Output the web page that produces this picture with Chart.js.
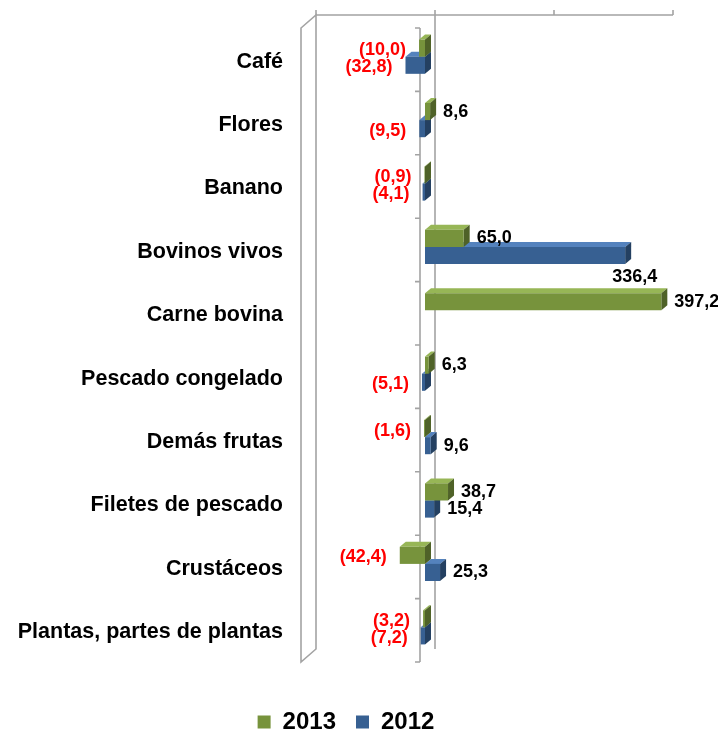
<!DOCTYPE html>
<html>
<head>
<meta charset="utf-8">
<script src="https://cdn.jsdelivr.net/npm/chart.js@4"></script>
<style>
  html, body { margin: 0; padding: 0; background: #fff; overflow: hidden; }
  #wrap { width: 718px; height: 735px; }
</style>
</head>
<body>
<div id="wrap"><canvas id="chart"></canvas></div>
<script>
const categories = ['Café', 'Flores', 'Banano', 'Bovinos vivos', 'Carne bovina',
  'Pescado congelado', 'Demás frutas', 'Filetes de pescado', 'Crustáceos',
  'Plantas, partes de plantas'];
const values2013 = [-10.0, 8.6, -0.9, 65.0, 397.2, 6.3, -1.6, 38.7, -42.4, -3.2];
const values2012 = [-32.8, -9.5, -4.1, 336.4, null, -5.1, 9.6, 15.4, 25.3, -7.2];
const seriesNames = ['2013', '2012'];
const valueTicks = [-200, 0, 200, 400];

const faces = [
  {front: '#77933C', top: '#97B656', side: '#4F6228'},
  {front: '#376092', top: '#5482BD', side: '#244061'}
];
const lineGrey = '#A3A3A3';
const depthX = 6, depthY = 5;      // bar depth
const back = {dx: 10, dy: -10};    // back wall offset from the bar plane
const front = {dx: -5, dy: 3};     // front (axis) plane offset

Chart.defaults.font.family = '"Liberation Sans", Arial, sans-serif';

function fmt(v) {
  const s = Math.abs(v).toFixed(1).replace('.', ',');
  return v < 0 ? '(' + s + ')' : s;
}

const box3d = {
  id: 'box3d',
  beforeDatasetsDraw(chart) {
    const ctx = chart.ctx, a = chart.chartArea, xs = chart.scales.x;
    const min = valueTicks[0], max = valueTicks[valueTicks.length - 1];
    ctx.save();
    ctx.strokeStyle = lineGrey;
    ctx.lineWidth = 1.6;

    // left side wall
    const fl = xs.getPixelForValue(min) + front.dx, bl = xs.getPixelForValue(min) + back.dx;
    ctx.fillStyle = '#fff';
    ctx.beginPath();
    ctx.moveTo(fl, a.top + front.dy);
    ctx.lineTo(bl, a.top + back.dy);
    ctx.lineTo(bl, a.bottom + back.dy);
    ctx.lineTo(fl, a.bottom + front.dy);
    ctx.closePath();
    ctx.fill();
    ctx.stroke();

    // top edge of the back wall with tick marks
    const ty = a.top + back.dy;
    ctx.beginPath();
    ctx.moveTo(bl, ty);
    ctx.lineTo(xs.getPixelForValue(max) + back.dx, ty);
    valueTicks.forEach(t => {
      const x = xs.getPixelForValue(t) + back.dx;
      ctx.moveTo(x, ty);
      ctx.lineTo(x, ty - 5);
    });
    // zero line on the back wall
    const bz = xs.getPixelForValue(0) + back.dx;
    ctx.moveTo(bz, ty);
    ctx.lineTo(bz, a.bottom + back.dy);
    ctx.stroke();

    // category axis in front
    const fz = xs.getPixelForValue(0) + front.dx;
    const step = (a.bottom - a.top) / categories.length;
    ctx.beginPath();
    ctx.moveTo(fz, a.top + front.dy);
    ctx.lineTo(fz, a.bottom + front.dy);
    for (let i = 0; i <= categories.length; i++) {
      const y = a.top + front.dy + i * step;
      ctx.moveTo(fz, y);
      ctx.lineTo(fz - 5, y);
    }
    ctx.stroke();

    // top and side faces of the bars, lower series first
    for (let d = chart.data.datasets.length - 1; d >= 0; d--) {
      const meta = chart.getDatasetMeta(d);
      const vals = chart.data.datasets[d].data;
      meta.data.forEach((bar, i) => {
        if (vals[i] == null) return;
        const p = bar.getProps(['x', 'y', 'base', 'height'], true);
        const l = Math.min(p.x, p.base), r = Math.max(p.x, p.base);
        const t = p.y - p.height / 2, b = p.y + p.height / 2;
        ctx.fillStyle = faces[d].top;
        ctx.beginPath();
        ctx.moveTo(l, t);
        ctx.lineTo(l + depthX, t - depthY);
        ctx.lineTo(r + depthX, t - depthY);
        ctx.lineTo(r, t);
        ctx.closePath();
        ctx.fill();
        ctx.fillStyle = faces[d].side;
        ctx.beginPath();
        ctx.moveTo(r, t);
        ctx.lineTo(r + depthX, t - depthY);
        ctx.lineTo(r + depthX, b - depthY);
        ctx.lineTo(r, b);
        ctx.closePath();
        ctx.fill();
      });
    }
    ctx.restore();
  },
  afterDatasetsDraw(chart) {
    const ctx = chart.ctx;
    ctx.save();
    ctx.font = 'bold 18px "Liberation Sans", Arial, sans-serif';
    ctx.textBaseline = 'middle';
    chart.data.datasets.forEach((ds, d) => {
      chart.getDatasetMeta(d).data.forEach((bar, i) => {
        const v = ds.data[i];
        if (v == null) return;
        const p = bar.getProps(['x', 'y', 'base'], true);
        const l = Math.min(p.x, p.base), r = Math.max(p.x, p.base);
        if (d === 1 && i === 3) {
          // Excel pushed this one under the bar end
          ctx.fillStyle = '#000';
          ctx.textAlign = 'left';
          ctx.fillText(fmt(v), r - 13, p.y + 22);
        } else if (v >= 0) {
          ctx.fillStyle = '#000';
          ctx.textAlign = 'left';
          ctx.fillText(fmt(v), r + 13, p.y);
        } else {
          ctx.fillStyle = '#FF0000';
          ctx.textAlign = 'right';
          ctx.fillText(fmt(v), l - 13, p.y + 2);
        }
      });
    });
    ctx.restore();
  }
};

new Chart(document.getElementById('chart'), {
  type: 'bar',
  data: {
    labels: categories,
    datasets: [
      {label: seriesNames[0], data: values2013, backgroundColor: faces[0].front, borderWidth: 0},
      {label: seriesNames[1], data: values2012, backgroundColor: faces[1].front, borderWidth: 0}
    ]
  },
  options: {
    indexAxis: 'y',
    responsive: true,
    maintainAspectRatio: false,
    animation: false,
    categoryPercentage: 0.54,
    barPercentage: 1,
    layout: {padding: {left: 0, right: 26, top: 25, bottom: -9}},
    scales: {
      x: {
        min: valueTicks[0], max: valueTicks[valueTicks.length - 1],
        ticks: {display: false},
        grid: {display: false},
        border: {display: false},
        afterFit: s => { s.height = 31; }
      },
      y: {
        grid: {display: false, drawTicks: false},
        border: {display: false},
        ticks: {
          autoSkip: false,
          color: '#000',
          font: {size: 21.5, weight: 'bold'},
          padding: 23,
          labelOffset: 5
        },
        afterFit: s => {
          s.width = 306;
          s.paddingTop = 0;
          s.paddingBottom = 0;
        }
      },
      // empty spacer on the right, keeps room for the end labels
      spacer: {
        type: 'category',
        position: 'right',
        grid: {display: false, drawTicks: false},
        border: {display: false},
        ticks: {display: false},
        afterFit: s => { s.width = 29; }
      }
    },
    plugins: {
      tooltip: {enabled: false},
      legend: {
        position: 'bottom',
        labels: {
          color: '#000',
          font: {size: 24, weight: 'bold'},
          boxWidth: 13,
          boxHeight: 13,
          padding: 20
        }
      }
    }
  },
  plugins: [box3d]
});
</script>
</body>
</html>
